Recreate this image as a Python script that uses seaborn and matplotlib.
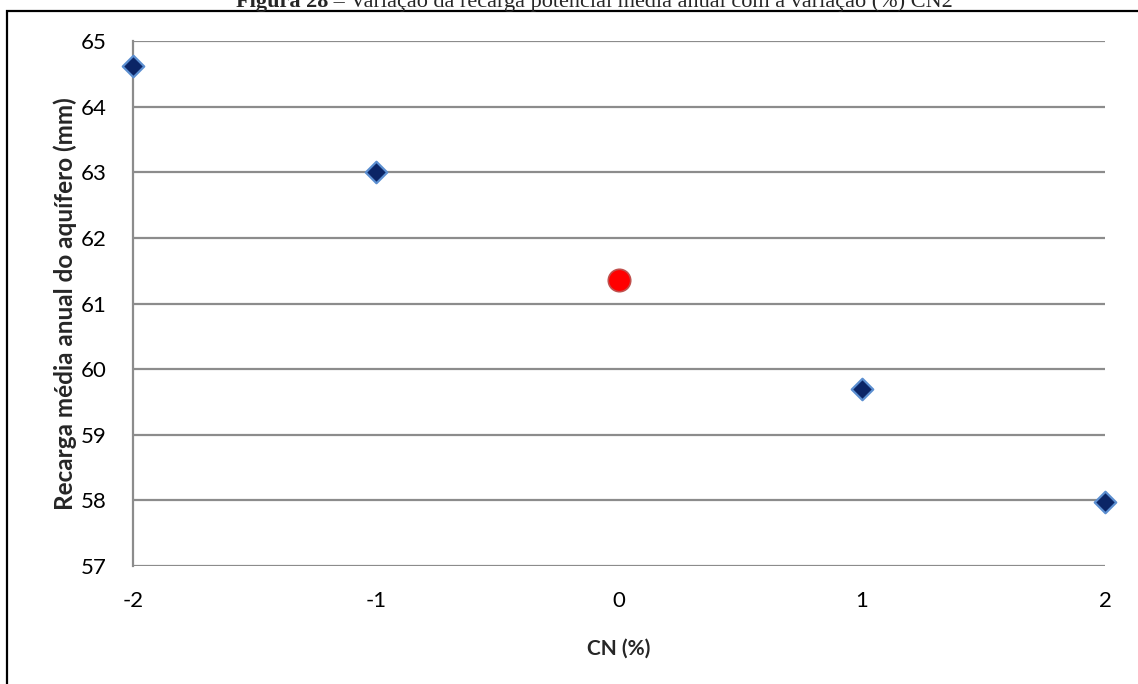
import matplotlib
matplotlib.use("Agg")
import matplotlib.pyplot as plt
import seaborn as sns
import pandas as pd
from matplotlib.patches import Rectangle

# --- DATA ---
cn_pct = [-2, -1, 0, 1, 2]
recarga = [64.62, 63.01, 61.36, 59.70, 57.98]
base_case = [False, False, True, False, False]
y_ticks = [57, 58, 59, 60, 61, 62, 63, 64, 65]
x_ticks = [-2, -1, 0, 1, 2]

df = pd.DataFrame({"cn": cn_pct, "recarga": recarga, "base": base_case})

sns.set_style("white")
plt.rcParams["font.family"] = ["Lato", "DejaVu Sans"]

W, H = 1138, 684
fig = plt.figure(figsize=(W / 100, H / 100), dpi=100)
ax = fig.add_axes([133 / W, 1 - 566 / H, (1105 - 133) / W, (566 - 41) / H])

grid_c = "#8c8c8c"
for v in y_ticks:
    ax.axhline(v, color=grid_c, lw=1.6, zorder=1)

sns.scatterplot(data=df[~df["base"]], x="cn", y="recarga", marker="D", s=120,
                color="#0b2566", edgecolor="#5b8ed0", linewidth=1.6, ax=ax,
                zorder=3, legend=False, clip_on=False)
sns.scatterplot(data=df[df["base"]], x="cn", y="recarga", marker="o", s=260,
                color="#ff0000", edgecolor="#c0504d", linewidth=1.2, ax=ax,
                zorder=3, legend=False, clip_on=False)

ax.set_xlim(-2, 2)
ax.set_ylim(57, 65)
ax.set_xticks(x_ticks)
ax.set_yticks(y_ticks)
ax.set_xticklabels([str(v) for v in x_ticks])
ax.set_yticklabels([str(v) for v in y_ticks])
ax.tick_params(axis="both", length=0, labelsize=16, colors="black")
ax.tick_params(axis="x", pad=18)
ax.tick_params(axis="y", pad=19)

for s in ["top", "right", "bottom"]:
    ax.spines[s].set_visible(False)
ax.spines["left"].set_color(grid_c)
ax.spines["left"].set_linewidth(1.6)

ax.set_xlabel("CN (%)", fontsize=15, fontweight="bold", labelpad=20)
ax.set_ylabel("Recarga média anual do aquífero (mm)", fontsize=17.5,
              fontweight="bold", labelpad=3)
ax.patch.set_alpha(0)

# outer frame of the figure box
fig.patches.append(Rectangle((7 / W, -0.1), 1.2, 1 - 11 / H + 0.1,
                             transform=fig.transFigure, fill=False,
                             edgecolor="black", lw=1.6, zorder=0))

# clipped caption at the very top
ty = 1 - 7 / H
t1 = fig.text(236 / W, ty, "Figura 28", family="Liberation Serif",
              fontsize=16, fontweight="bold", va="baseline")
fig.canvas.draw()
bb = t1.get_window_extent()
fig.text(bb.x1 / W, ty, " – Variação da recarga potencial média anual com a variação (%) CN2",
         family="Liberation Serif", fontsize=16, va="baseline")

fig.savefig("out.png", dpi=100)
